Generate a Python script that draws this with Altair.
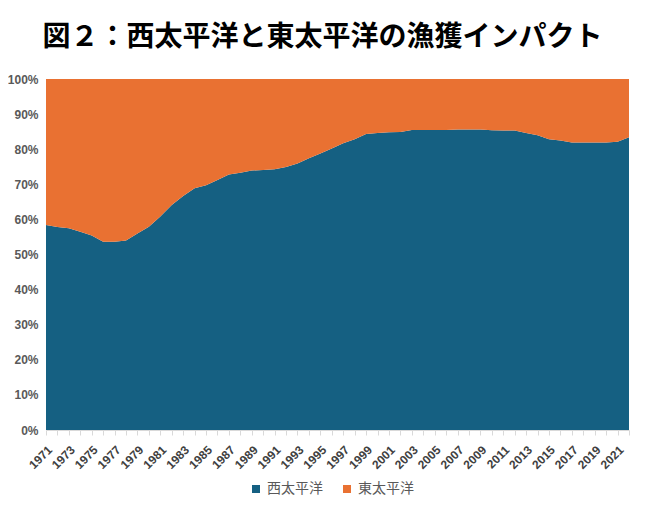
import altair as alt
import pandas as pd

years = list(range(1971, 2023))
west = [58.4, 57.8, 57.5, 56.5, 55.4, 53.6, 53.6, 54.0, 56.0, 57.9,
        60.8, 64.1, 66.7, 68.9, 69.7, 71.2, 72.8, 73.3, 73.9, 74.1,
        74.3, 74.9, 75.9, 77.4, 78.8, 80.2, 81.7, 82.8, 84.3, 84.6,
        84.8, 84.9, 85.5, 85.5, 85.5, 85.5, 85.6, 85.6, 85.6, 85.4,
        85.3, 85.3, 84.6, 84.0, 82.8, 82.5, 81.9, 81.9, 81.9, 81.9,
        82.1, 83.4]
east = [round(100 - v, 1) for v in west]
series = ["西太平洋", "東太平洋"]
colors = ["#156082", "#E97132"]

rows = []
for y, w, e in zip(years, west, east):
    rows.append({"year": y, "region": series[0], "share": w, "ord": 0})
    rows.append({"year": y, "region": series[1], "share": e, "ord": 1})
df = pd.DataFrame(rows)

cjk = "Noto Sans CJK JP"
latin = "Liberation Sans"

chart = alt.Chart(df).mark_area(opacity=1).encode(
    x=alt.X("year:Q",
            scale=alt.Scale(domain=[1971, 2022], nice=False, zero=False),
            axis=alt.Axis(title=None, values=years, format="d",
                          labelExpr="datum.value % 2 == 1 ? datum.value : ''",
                          labelAngle=-45, labelFont=latin, labelFontWeight="bold",
                          labelFontSize=12, labelColor="#404040",
                          domainColor="#D9D9D9", tickColor="#D9D9D9",
                          tickSize=5, grid=False, labelPadding=9,
                          labelOverlap=False, labelFlush=False)),
    y=alt.Y("share:Q", stack="zero",
            scale=alt.Scale(domain=[0, 100], nice=False),
            axis=alt.Axis(title=None, values=list(range(0, 101, 10)),
                          labelExpr="datum.value + '%'",
                          labelFont=latin, labelFontWeight="bold",
                          labelFontSize=12, labelColor="#595959",
                          domain=False, ticks=False, grid=False,
                          labelPadding=8)),
    color=alt.Color("region:N",
                    scale=alt.Scale(domain=series, range=colors),
                    legend=alt.Legend(title=None, orient="none",
                                      direction="horizontal",
                                      legendX=203, legendY=403,
                                      symbolType="square", symbolSize=64,
                                      symbolStrokeWidth=0,
                                      labelFont=cjk, labelFontSize=14,
                                      labelColor="#595959", columnPadding=17,
                                      labelOffset=4)),
    order=alt.Order("ord:Q", sort="ascending"),
).properties(
    width=583,
    height=351,
    padding={"left": 38, "top": 71, "right": 13, "bottom": 80},
    autosize=alt.AutoSizeParams(type="none"),
    title=alt.TitleParams("図２：西太平洋と東太平洋の漁獲インパクト",
                          font=cjk, fontSize=28, fontWeight="bold",
                          color="#000000", anchor="middle", offset=21, dx=-15),
).configure_view(stroke=None)

chart.save("out.html", embed_options={"renderer": "svg", "actions": False})
